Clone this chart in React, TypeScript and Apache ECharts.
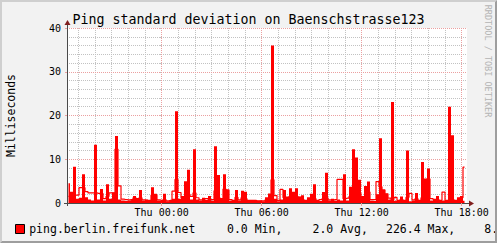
import React, { useEffect, useRef } from 'react';
import * as echarts from 'echarts';

// ---------- data ----------
const TITLE = 'Ping standard deviation on Baenschstrasse123';
const Y_NAME = 'Milliseconds';
const WATERMARK = 'RRDTOOL / TOBI OETIKER';
const SERIES_NAME = 'ping.berlin.freifunk.net';
const LEGEND_STATS = ['0.0 Min,', '2.0 Avg,', '226.4 Max,', '8.'];
const DAY_NAMES = ['Wed', 'Thu'];

// time axis in hours relative to Thu 00:00
const X_START = -5.68;
const X_END = 18.32;
const STEP_HOURS = 0.18;

// filled area (std deviation peaks), one value per time bin
const AREA_VALUES = [
  4.5, 2.6, 8.3, 1.0, 1.2, 6.6, 1.3, 0.8, 0.6, 13.3,
  0.8, 3.2, 0.6, 4.3, 1.0, 2.4, 15.3, 0.8, 0.6, 0.5,
  0.6, 0.7, 1.6, 1.1, 3.0, 0.6, 0.8, 0.5, 3.6, 2.1,
  0.6, 0.5, 2.1, 0.4, 0.5, 1.0, 21.0, 1.0, 1.6, 5.0,
  7.6, 0.8, 12.3, 0.8, 0.6, 1.2, 0.7, 1.6, 0.6, 13.0,
  6.4, 1.0, 6.6, 3.0, 0.6, 0.5, 3.0, 0.6, 2.8, 2.6,
  0.6, 0.7, 0.5, 0.5, 0.6, 0.4, 1.3, 2.2, 36.0, 1.0,
  0.4, 0.8, 3.0, 1.5, 3.4, 2.6, 3.4, 1.5, 1.8, 0.6,
  1.3, 2.1, 4.3, 0.6, 0.5, 2.5, 6.9, 0.6, 1.0, 0.6,
  0.8, 0.6, 6.6, 0.6, 3.7, 12.3, 10.4, 5.3, 1.6, 3.9,
  4.9, 0.6, 0.5, 2.0, 14.8, 3.0, 2.1, 0.8, 23.1, 0.5,
  0.6, 1.5, 0.5, 12.0, 0.4, 0.6, 2.3, 0.6, 9.4, 5.6,
  7.9, 0.6, 1.0, 1.6, 0.5, 0.6, 0.5, 22.0, 15.5, 0.5,
  1.3, 1.6, 0.5,
];

// line drawn over the area
const LINE_VALUES = [
  1.5, 1.6, 1.8, 1.8, 3.5, 3.5, 2.6, 2.3, 2.3, 2.3,
  2.2, 2.2, 1.0, 1.5, 2.3, 2.3, 12.3, 3.9, 0.9, 0.8,
  0.7, 0.8, 1.2, 1.0, 1.2, 0.7, 0.6, 0.6, 1.8, 1.8,
  0.7, 0.6, 0.8, 0.5, 0.6, 2.7, 5.4, 2.4, 1.2, 1.2,
  2.0, 1.5, 2.3, 1.2, 0.7, 0.8, 1.0, 0.8, 0.8, 2.8,
  1.2, 1.0, 3.2, 3.0, 0.8, 0.6, 1.3, 0.7, 1.2, 1.0,
  0.6, 0.6, 0.6, 0.5, 0.5, 0.5, 0.7, 1.0, 5.3, 1.7,
  0.6, 3.1, 1.2, 1.2, 1.5, 2.0, 1.5, 1.3, 0.8, 0.6,
  0.7, 0.8, 1.0, 0.6, 0.8, 1.0, 1.2, 0.7, 0.7, 0.8,
  5.4, 5.4, 1.0, 1.1, 1.5, 3.0, 4.8, 2.2, 1.0, 1.5,
  2.5, 0.8, 0.8, 4.9, 3.7, 3.0, 2.1, 1.1, 0.8, 1.3,
  0.6, 0.8, 0.6, 1.3, 2.2, 0.7, 1.0, 0.6, 1.2, 2.5,
  5.5, 1.0, 0.8, 0.8, 0.6, 2.5, 0.6, 0.6, 0.8, 0.6,
  0.7, 1.2, 8.2,
];

// ---------- styling / layout ----------
const W = 497;
const H = 243;
const GRID = { left: 67, top: 28, width: 400, height: 175 };
const FONT = "'DejaVu Sans Mono', monospace";
const BG = '#f2f2f2';
const SHADE_A = '#cfcfcf';
const SHADE_B = '#9e9e9e';
const GRID_MINOR = '#c2c2c2';
const GRID_MAJOR = '#eba0a0';
const AXIS_COLOR = '#4a4a4a';
const ARROW_COLOR = '#801f1f';
const DATA_COLOR = '#ff0000';

const binTime = (i: number) => X_START + STEP_HOURS * (i + 0.5);

const xLabel = (v: number) => {
  if (Math.abs(v - Math.round(v)) > 1e-6) return '';
  const h = Math.round(v);
  const day = h < 0 ? DAY_NAMES[0] : DAY_NAMES[1];
  const hh = ((h % 24) + 24) % 24;
  return `${day} ${String(hh).padStart(2, '0')}:00`;
};

function buildOption(): echarts.EChartsOption {
  const gl = GRID.left;
  const gt = GRID.top;
  const gr = GRID.left + GRID.width;
  const gb = GRID.top + GRID.height;
  const ax = gl + 0.5;
  const ay = gb + 0.5;

  return {
    animation: false,
    backgroundColor: BG,
    grid: {
      left: GRID.left,
      top: GRID.top,
      width: GRID.width,
      height: GRID.height,
      show: true,
      backgroundColor: '#ffffff',
      borderWidth: 0,
    },
    xAxis: [
      {
        type: 'value',
        position: 'bottom',
        min: X_START,
        max: X_END,
        minInterval: 1,
        maxInterval: 1,
        splitNumber: 24,
        z: 0,
        axisLine: { show: false, onZero: false },
        axisTick: { show: false },
        axisLabel: { show: false },
        splitLine: {
          show: true,
          showMinLine: false,
          showMaxLine: false,
          lineStyle: { color: GRID_MINOR, width: 1, type: [1, 1] },
        },
      },
      {
        type: 'value',
        position: 'bottom',
        min: X_START,
        max: X_END,
        minInterval: 6,
        maxInterval: 6,
        splitNumber: 4,
        z: 1,
        axisLine: { show: true, onZero: false, lineStyle: { color: AXIS_COLOR, width: 1 } },
        axisTick: { show: true, length: 3, lineStyle: { color: GRID_MAJOR } },
        axisLabel: {
          show: true,
          showMinLabel: false,
          showMaxLabel: false,
          formatter: xLabel,
          fontFamily: FONT,
          fontSize: 10,
          color: '#000',
          margin: 4,
        },
        splitLine: {
          show: true,
          showMinLine: false,
          showMaxLine: false,
          lineStyle: { color: GRID_MAJOR, width: 1, type: [1, 1] },
        },
      },
    ],
    yAxis: [
      {
        type: 'value',
        position: 'left',
        min: 0,
        max: 40,
        interval: 2,
        z: 0,
        axisLine: { show: false },
        axisTick: { show: true, length: 2, lineStyle: { color: GRID_MINOR } },
        axisLabel: { show: false },
        splitLine: {
          show: true,
          showMinLine: false,
          showMaxLine: false,
          lineStyle: { color: GRID_MINOR, width: 1, type: [1, 1] },
        },
      },
      {
        type: 'value',
        position: 'left',
        min: 0,
        max: 40,
        interval: 10,
        z: 1,
        axisLine: { show: true, onZero: false, lineStyle: { color: AXIS_COLOR, width: 1 } },
        axisTick: { show: true, length: 2, lineStyle: { color: GRID_MAJOR } },
        axisLabel: { fontFamily: FONT, fontSize: 10, color: '#000', margin: 6 },
        splitLine: {
          show: true,
          showMinLine: false,
          showMaxLine: true,
          lineStyle: { color: GRID_MAJOR, width: 1, type: [1, 1] },
        },
      },
    ],
    series: [
      {
        type: 'line',
        name: SERIES_NAME,
        xAxisIndex: 1,
        yAxisIndex: 0,
        step: 'middle',
        symbol: 'none',
        silent: true,
        z: 2,
        lineStyle: { width: 0, opacity: 0 },
        areaStyle: { color: DATA_COLOR, opacity: 1 },
        data: AREA_VALUES.map((v, i) => [binTime(i), v]),
      },
      {
        type: 'line',
        name: SERIES_NAME + ' line',
        xAxisIndex: 1,
        yAxisIndex: 0,
        step: 'middle',
        symbol: 'none',
        silent: true,
        z: 3,
        lineStyle: { color: DATA_COLOR, width: 1.2 },
        data: LINE_VALUES.map((v, i) => [binTime(i), v]),
      },
    ],
    graphic: [
      // axis extensions + arrows
      { type: 'line', z: 10, shape: { x1: ax, y1: gt, x2: ax, y2: gt - 3 }, style: { stroke: AXIS_COLOR, lineWidth: 1 } },
      { type: 'polygon', z: 10, shape: { points: [[ax - 3, gt - 3], [ax + 3, gt - 3], [ax, gt - 8]] }, style: { fill: ARROW_COLOR } },
      { type: 'line', z: 10, shape: { x1: gl - 3, y1: ay, x2: gl, y2: ay }, style: { stroke: AXIS_COLOR, lineWidth: 1 } },
      { type: 'line', z: 10, shape: { x1: ax, y1: gb, x2: ax, y2: gb + 3 }, style: { stroke: AXIS_COLOR, lineWidth: 1 } },
      { type: 'line', z: 10, shape: { x1: gr, y1: ay, x2: gr + 2, y2: ay }, style: { stroke: AXIS_COLOR, lineWidth: 1 } },
      { type: 'polygon', z: 10, shape: { points: [[gr + 2, ay - 3], [gr + 2, ay + 3], [gr + 7, ay]] }, style: { fill: ARROW_COLOR } },
      // title
      {
        type: 'text', x: W / 2, y: 19,
        style: { text: TITLE, fontFamily: FONT, fontSize: 13.3, fill: '#000', align: 'center', verticalAlign: 'middle' },
      },
      // y axis name
      {
        type: 'text', x: 11, y: gt + GRID.height / 2, rotation: Math.PI / 2,
        style: { text: Y_NAME, fontFamily: FONT, fontSize: 11.5, fill: '#000', align: 'center', verticalAlign: 'middle' },
      },
      // watermark
      {
        type: 'text', x: 487.5, y: 61, rotation: -Math.PI / 2,
        style: { text: WATERMARK, fontFamily: FONT, fontSize: 8.5, fill: '#b4b4b4', align: 'center', verticalAlign: 'middle' },
      },
      // legend
      {
        type: 'rect', shape: { x: 15.5, y: 224.5, width: 9, height: 9 },
        style: { fill: DATA_COLOR, stroke: '#000', lineWidth: 1 },
      },
      {
        type: 'text', x: 29.2, y: 229,
        style: { text: SERIES_NAME, fontFamily: FONT, fontSize: 11.5, fill: '#000', align: 'left', verticalAlign: 'middle' },
      },
      ...LEGEND_STATS.map((t, i) => ({
        type: 'text' as const,
        x: [227, 312.5, 386, 484.3][i],
        y: 229,
        style: { text: t, fontFamily: FONT, fontSize: 11.5, fill: '#000', align: 'left' as const, verticalAlign: 'middle' as const },
      })),
      // 3d border
      {
        type: 'polygon', z: 100,
        shape: { points: [[0, H], [2, H - 2], [2, 2], [W - 2, 2], [W, 0], [0, 0]] },
        style: { fill: SHADE_A },
      },
      {
        type: 'polygon', z: 100,
        shape: { points: [[2, H - 2], [W - 2, H - 2], [W - 2, 2], [W, 0], [W, H], [0, H]] },
        style: { fill: SHADE_B },
      },
    ],
  } as echarts.EChartsOption;
}

export default function App() {
  const ref = useRef<HTMLDivElement>(null);
  useEffect(() => {
    if (!ref.current) return;
    const chart = echarts.init(ref.current, null, { renderer: 'svg' });
    chart.setOption(buildOption());
    return () => chart.dispose();
  }, []);
  return (
    <div
      ref={ref}
      style={{ position: 'fixed', left: 0, top: 0, width: W, height: H }}
    />
  );
}
